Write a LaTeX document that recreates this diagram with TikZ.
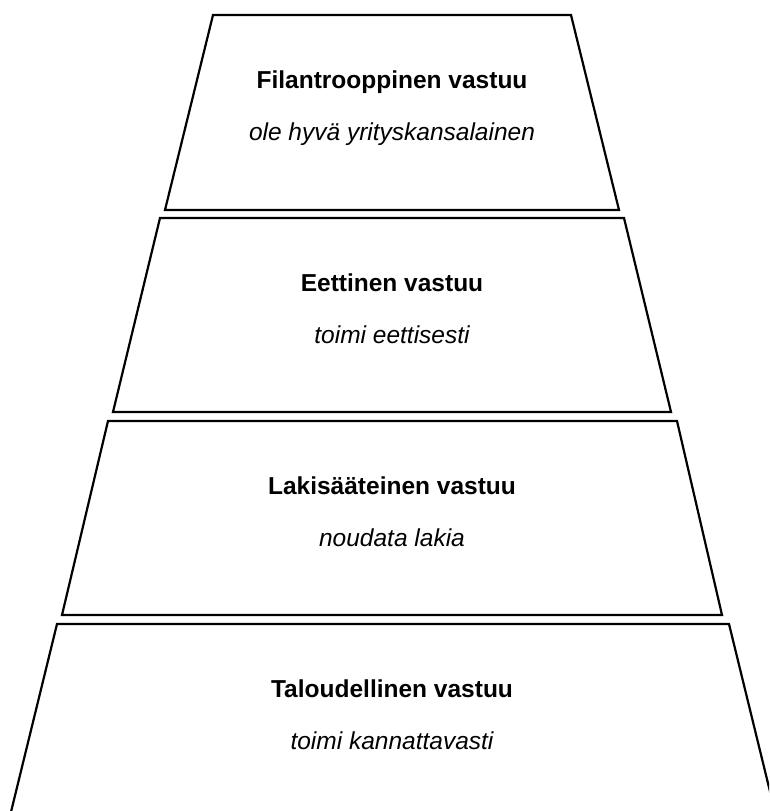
\documentclass[tikz,border=0pt]{standalone}
\usepackage{fontspec}
\setmainfont{Liberation Sans}
\begin{document}
\begin{tikzpicture}[x=1pt,y=-1pt,
  layer/.style={draw=black,line width=2.2pt,line join=miter,fill=white},
  title/.style={font=\fontsize{24.5}{28}\selectfont\bfseries,anchor=base,inner sep=0pt},
  motto/.style={font=\fontsize{24.5}{28}\selectfont\itshape,anchor=base,inner sep=0pt}]
\useasboundingbox (0,0) rectangle (769,811);
\clip (0,0) rectangle (769,811);
\fill[white] (0,0) rectangle (769,811);
% layers
\draw[layer] (213,15) -- (571,15) -- (619,210) -- (165,210) -- cycle;
\draw[layer] (160,218) -- (624,218) -- (671,412) -- (113,412) -- cycle;
\draw[layer] (108,421) -- (677,421) -- (722,615) -- (62,615) -- cycle;
\draw[layer] (10,816) -- (57,624) -- (729,624) -- (776,816);
% texts
\node[title] (t1) at (392,88) {Filantrooppinen vastuu};
\node[motto] (m1) at (392,140) {ole hyvä yrityskansalainen};
\node[title] (t2) at (392,291) {Eettinen vastuu};
\node[motto] (m2) at (392,343) {toimi eettisesti};
\node[title] (t3) at (392,494) {Lakisääteinen vastuu};
\node[motto] (m3) at (392,546) {noudata lakia};
\node[title] (t4) at (392,697) {Taloudellinen vastuu};
\node[motto] (m4) at (392,749) {toimi kannattavasti};
\end{tikzpicture}
\end{document}
